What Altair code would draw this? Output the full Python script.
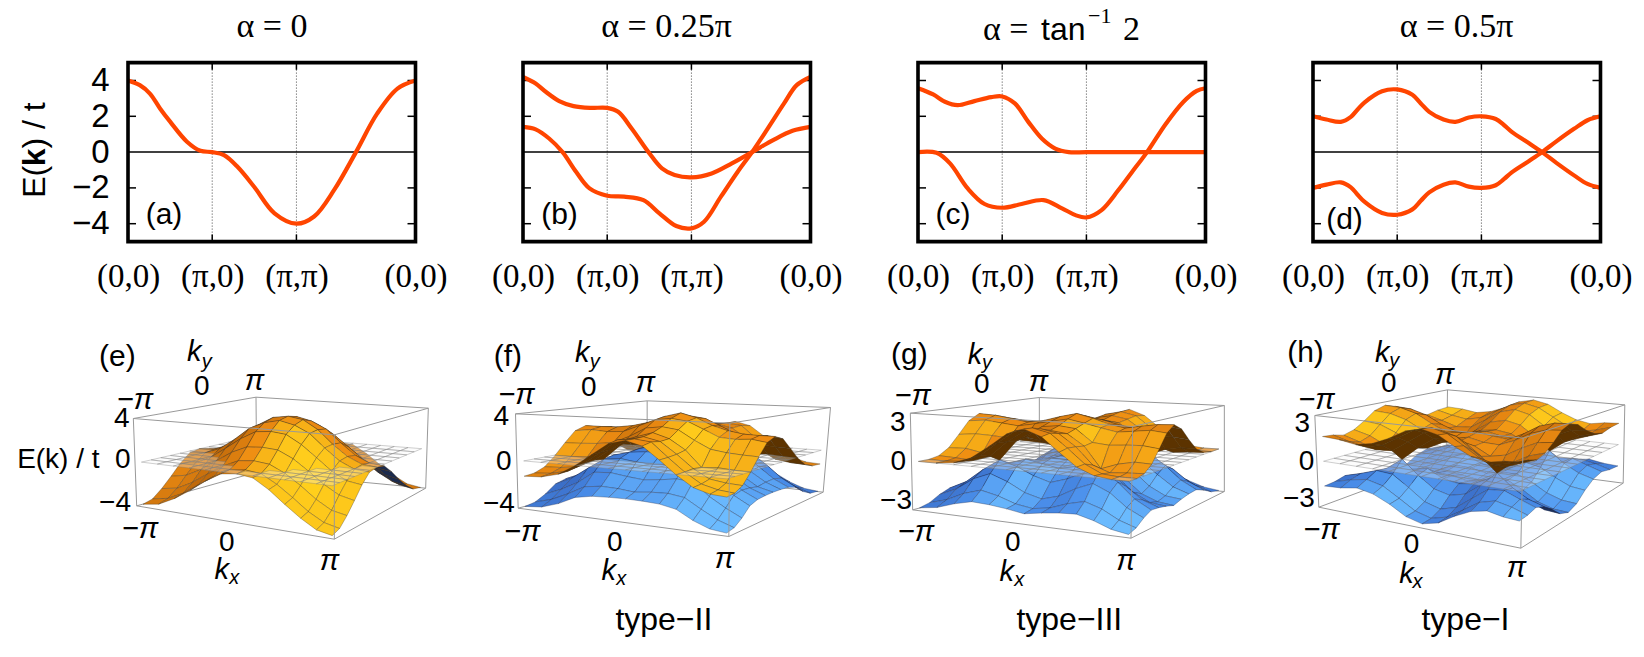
import numpy as np
import pandas as pd
import altair as alt

alt.data_transformers.disable_max_rows()

# ---- band-structure cuts (a)-(d): x is path length in units of pi
A_X = [0, .14, .26, .38, .5, .7, .86, 1, 1.14, 1.3, 1.5, 1.74, 2, 2.21, 2.45, 2.707, 2.96, 3.2, 3.414]
A_E = [4, 3.74, 3.27, 2.44, 1.7, .58, .07, 0, -.17, -.82, -1.95, -3.42, -4, -3.6, -2.1, 0, 2.16, 3.55, 4]
B1_X = [0, .15, .27, .43, .6, .8, 1, 1.13, 1.29, 1.49, 1.65, 1.8, 2, 2.24, 2.48, 2.72, 2.97, 3.2, 3.414]
B1_E = [4.2, 3.83, 3.37, 2.85, 2.57, 2.47, 2.47, 2.25, 1.32, 0, -.91, -1.28, -1.41, -1.19, -.63, 0, .67, 1.19, 1.41]
B2_X = [0, .15, .31, .47, .63, .79, 1, 1.2, 1.43, 1.62, 1.82, 2, 2.15, 2.35, 2.55, 2.72, 2.9, 3.1, 3.25, 3.414]
B2_E = [1.41, 1.27, .76, 0, -1.1, -2.03, -2.44, -2.49, -2.68, -3.42, -4.13, -4.26, -3.89, -2.49, -1.1, 0, 1.27, 2.72, 3.74, 4.2]
C1_X = [0, .18, .32, .47, .67, .87, 1, 1.15, 1.31, 1.47, 1.63, 1.79, 2, 2.7, 3.414]
C1_E = [3.57, 3.22, 2.81, 2.62, 2.85, 3.07, 3.11, 2.72, 1.69, .76, .2, 0, 0, 0, 0]
C2_X = [0, .22, .38, .59, .79, 1, 1.23, 1.49, 1.71, 1.87, 2, 2.18, 2.38, 2.54, 2.72, 2.94, 3.15, 3.31, 3.414]
C2_E = [0, -.04, -.63, -2.03, -2.9, -3.11, -2.9, -2.68, -3.14, -3.52, -3.65, -3.24, -2.12, -1.12, 0, 1.56, 2.8, 3.42, 3.57]
D1_X = [0, .16, .33, .45, .53, .61, .82, 1, 1.18, 1.28, 1.38, 1.55, 1.69, 1.85, 2, 2.17, 2.27, 2.36, 2.57, 2.72, 2.89, 3.1, 3.26, 3.414]
D1_E = [2, 1.82, 1.69, 1.97, 2.38, 2.77, 3.4, 3.5, 3.2, 2.72, 2.25, 1.82, 1.69, 1.93, 2, 1.85, 1.5, 1.13, .48, 0, -.6, -1.3, -1.78, -2]
D2_X = D1_X
D2_E = [-2, -1.82, -1.69, -1.97, -2.38, -2.77, -3.4, -3.5, -3.2, -2.72, -2.25, -1.82, -1.69, -1.93, -2, -1.85, -1.5, -1.13, -.48, 0, .6, 1.3, 1.78, 2]
X_TICKS = [0, 1, 2, 3.414]
Y_TICKS = [-4, -2, 0, 2, 4]

# ---- surface heights, one quadrant (kx<=ky, steps of pi/6)
E_E = [[4, 3.78, 2.95, 1.7, .7, .12, 0], [3.46, 2.8, 1.6, .55, -.05, -.17], [2, .95, -.1, -.8, -1],
       [0, -1, -1.75, -2.05], [-2, -2.75, -3], [-3.46, -3.75], [-4]]
F_U = [[4.2, 3.8, 3.15, 2.75, 2.52, 2.47, 2.47], [3.6, 2.95, 2.3, 2.2, 2.3, 2.1], [2.1, 1.4, 1.2, 1.1, 1.05],
       [0, .1, 0, -.05], [-.65, -.85, -.93], [-1.19, -1.32], [-1.41]]
F_L = [[1.41, 1.26, .77, -.1, -1.25, -2.1, -2.44], [1.15, .75, 0, -1.1, -1.95, -2.47], [.6, .2, -.9, -1.9, -2.55],
       [0, -1, -2.1, -2.82], [-2.1, -2.9, -3.55], [-3.6, -4.05], [-4.2]]
G_U = [[3.57, 3.25, 2.85, 2.62, 2.85, 3.05, 3.11], [3, 2.7, 2.45, 2.6, 2.75, 2.62], [1.72, 1.6, 1.7, 1.75, 1.6],
       [0, .45, .7, .65], [0, .1, .15], [0, 0], [0]]
G_L = [[0, 0, -.5, -1.4, -2.45, -2.95, -3.11], [0, -.25, -1, -2.1, -2.75, -2.9], [0, -.4, -1.4, -2.3, -2.75],
       [0, -.9, -2, -2.68], [-1.45, -2.4, -3], [-3.05, -3.45], [-3.65]]
H_U = [[2, 1.82, 1.69, 2.3, 3.05, 3.42, 3.5], [1.55, 1.5, 2, 2.7, 3.1, 3.2], [.85, 1.1, 1.8, 2.35, 2.5],
       [0, .95, 1.6, 1.95], [.85, 1.3, 1.7], [1.55, 1.92], [2]]
H_L = [[-2, -1.82, -1.69, -2.3, -3.05, -3.42, -3.5], [-1.55, -1.5, -2, -2.7, -3.1, -3.2], [-.85, -1.1, -1.8, -2.35, -2.5],
       [0, -.95, -1.6, -1.95], [-.85, -1.3, -1.7], [-1.55, -1.92], [-2]]

# ---- labels of lower panels: text, x, y in 3x crop coordinates
LAB_E = [("(e)", 352, 110, 30), ("0", 605, 200, 28), ("4", 365, 297, 28), ("0", 368, 420, 28), ("−4", 345, 550, 28),
         ("E(k) / t", 175, 420, 28), ("0", 680, 668, 28)]
PI_E = [("π", 763, 183), ("−π", 405, 240), ("−π", 420, 628), ("π", 988, 722), ("k", 583, 97), ("k", 665, 750)]
SUB_E = [("y", 620, 125), ("x", 703, 775)]
LAB_F = [("(f)", 112, 112, 30), ("0", 355, 205, 28), ("4", 92, 292, 28), ("0", 100, 425, 28), ("−4", 85, 552, 28),
         ("0", 433, 668, 28), ("type−II", 580, 900, 32)]
PI_F = [("π", 525, 190), ("−π", 138, 225), ("−π", 155, 636), ("π", 762, 717), ("k", 335, 100), ("k", 415, 752)]
SUB_F = [("y", 373, 125), ("x", 452, 778)]
LAB_G = [("(g)", 145, 105, 30), ("0", 362, 195, 28), ("3", 110, 310, 28), ("0", 112, 427, 28), ("−3", 105, 542, 28),
         ("0", 455, 668, 28), ("type−III", 625, 900, 32)]
PI_G = [("π", 532, 185), ("−π", 155, 228), ("−π", 165, 636), ("π", 795, 722), ("k", 342, 105), ("k", 437, 755)]
SUB_G = [("y", 378, 128), ("x", 475, 780)]
LAB_H = [("(h)", 132, 100, 30), ("0", 382, 192, 28), ("3", 122, 313, 28), ("0", 135, 425, 28), ("−3", 112, 538, 28),
         ("0", 450, 675, 28), ("type−I", 612, 900, 32)]
PI_H = [("π", 550, 165), ("−π", 165, 240), ("−π", 180, 630), ("π", 765, 745), ("k", 362, 100), ("k", 435, 762)]
SUB_H = [("y", 398, 122), ("x", 468, 785)]

# box corners (A,B,C,D) bottom then top, in crop coordinates
BOX_E = ([(410, 558), (1003, 658), (1277, 505), (770, 457)], [(400, 296), (1003, 345), (1285, 265), (768, 232)])
BOX_F = ([(143, 565), (775, 650), (1058, 517), (530, 460)], [(135, 282), (778, 310), (1080, 263), (530, 243)])
BOX_G = ([(155, 570), (810, 655), (1090, 515), (535, 470)], [(148, 280), (815, 320), (1090, 257), (535, 233)])
BOX_H = ([(172, 562), (778, 685), (1085, 490), (555, 420)], [(160, 287), (785, 355), (1090, 255), (558, 210)])

W, H_TOP, GAP_X = 287.5, 179, 107
LEFTS = [128, 522.5, 917, 1311.5]
TOP_Y = 62.75
ROW2_Y = 320
H_BOT = 320
FRAME = 3.6
SANS, SERIF = "Liberation Sans", "Liberation Serif"
ORANGE = "#ff4500"


def txt(s, x, y, size, font=SANS, **kw):
    kw.setdefault("align", "center")
    kw.setdefault("baseline", "alphabetic")
    return alt.Chart(pd.DataFrame({"t": [s]})).mark_text(font=font, fontSize=size, color="black", **kw).encode(
        x=alt.value(x), y=alt.value(y), text="t:N")


def cut_panel(idx, series, extra, yaxis):
    xs = alt.Scale(domain=[0, 3.414], nice=False, zero=False)
    ys = alt.Scale(domain=[-5, 5], nice=False, zero=False)
    xenc = alt.X("x:Q", scale=xs, axis=alt.Axis(
        values=X_TICKS, grid=False, domain=False, ticks=False, title=None, labelFont=SERIF, labelFontSize=33,
        labelColor="black", labelPadding=19, labelOverlap=False, labelFlush=False, labelBound=False,
        labelExpr="datum.value==1?'(π,0)':datum.value==2?'(π,π)':'(0,0)'"))
    yaxis_def = alt.Axis(values=Y_TICKS, grid=False, domain=False, ticks=False, title=None, labelFont=SANS,
                         labelFontSize=33, labelColor="black", labelPadding=19) if yaxis else None
    yenc = alt.Y("y:Q", scale=ys, axis=yaxis_def)

    frame = alt.Chart(pd.DataFrame({"x": [0], "x2": [3.414], "y": [-5], "y2": [5]})).mark_rect(
        filled=False, stroke="black", strokeWidth=FRAME).encode(x=xenc, x2="x2:Q", y=yenc, y2="y2:Q")
    layers = []
    layers.append(alt.Chart(pd.DataFrame({"x": [1, 2], "y": [-5, -5], "y2": [5, 5]})).mark_rule(
        stroke="#444", strokeWidth=1, strokeDash=[1, 2]).encode(x=xenc, y=yenc, y2="y2:Q"))
    for a, b in [(-5, -4.6), (4.6, 5)]:
        layers.append(alt.Chart(pd.DataFrame({"x": [1, 2], "y": [a, a], "y2": [b, b]})).mark_rule(
            stroke="black", strokeWidth=1.5).encode(x=xenc, y=yenc, y2="y2:Q"))
    ty = [t for t in Y_TICKS if t != 0]
    for a, b in [(0, .095), (3.319, 3.414)]:
        layers.append(alt.Chart(pd.DataFrame({"y": ty, "x": [a] * 4, "x2": [b] * 4})).mark_rule(
            stroke="black", strokeWidth=1.5).encode(y=yenc, x=xenc, x2="x2:Q"))
    layers.append(alt.Chart(pd.DataFrame({"y": [0], "x": [0], "x2": [3.414]})).mark_rule(
        stroke="black", strokeWidth=1.5).encode(y=yenc, x=xenc, x2="x2:Q"))
    for sx, se in series:
        layers.append(alt.Chart(pd.DataFrame({"x": sx, "y": se})).mark_line(
            color=ORANGE, strokeWidth=4.2, interpolate="catmull-rom", clip=True).encode(x=xenc, y=yenc))
    layers.append(frame)
    layers.extend(extra)
    return alt.layer(*layers).properties(width=W, height=H_TOP)


def quadrant_to_grid(tri):
    q = np.zeros((7, 7))
    for a, row in enumerate(tri):
        for k, v in enumerate(row):
            q[a, a + k] = v
            q[a + k, a] = v
    g = np.zeros((13, 13))
    for i in range(13):
        for j in range(13):
            g[i, j] = q[abs(i - 6), abs(j - 6)]
    return g


def hexcol(c):
    return "#%02x%02x%02x" % tuple(int(round(v)) for v in c)


def ramp(stops, s):
    cols = [np.array([int(h[i:i + 2], 16) for i in (1, 3, 5)], float) for h in stops]
    if s < .6:
        return hexcol(cols[0] + (cols[1] - cols[0]) * s / .6)
    return hexcol(cols[1] + (cols[2] - cols[1]) * (s - .6) / .4)


ORANGE_RAMP = ["#b9650a", "#ee8c12", "#ffcf1c"]
BLUE_RAMP = ["#3767c0", "#4a8eea", "#6cbcff"]
LIGHT = np.array([.62, -.62, .5])


def shade_grid(grid):
    sh = np.zeros((12, 12))
    for i in range(12):
        for j in range(12):
            du = (grid[i + 1, j] + grid[i + 1, j + 1] - grid[i, j] - grid[i, j + 1]) / 2 / (np.pi / 6)
            dv = (grid[i + 1, j + 1] + grid[i, j + 1] - grid[i, j] - grid[i + 1, j]) / 2 / (np.pi / 6)
            n = np.array([-du, -dv, 1.0])
            sh[i, j] = n @ LIGHT / np.linalg.norm(n)
    out = np.zeros((12, 12))
    for i in range(12):
        for j in range(12):
            out[i, j] = sh[max(i - 1, 0):i + 2, max(j - 1, 0):j + 2].mean()
    return np.clip(out, 0, 1)


def surface_panel(idx, off, box, emax, bands, labs, pis, subs):
    left = LEFTS[idx]

    def page(p):
        return np.array([off[0] + p[0] / 3 - left, off[1] + p[1] / 3 - ROW2_Y])

    bot = [page(p) for p in box[0]]
    top = [page(p) for p in box[1]]

    def bil(c, u, v):
        return (1 - u) * (1 - v) * c[0] + u * (1 - v) * c[1] + u * v * c[2] + (1 - u) * v * c[3]

    def proj(i, j, e):
        u = .02 + .96 * i / 12
        v = .02 + .96 * j / 12
        h = (e + emax) / (2 * emax)
        return (1 - h) * bil(bot, u, v) + h * bil(top, u, v)

    cells = []
    for grid, rmp, under, stroke in bands + [(np.zeros((13, 13)), None, None, None)]:
        sh = shade_grid(grid)
        for i in range(12):
            for j in range(12):
                es = [grid[i, j], grid[i + 1, j], grid[i + 1, j + 1], grid[i, j + 1]]
                pts = [proj(i, j, es[0]), proj(i + 1, j, es[1]), proj(i + 1, j + 1, es[2]), proj(i, j + 1, es[3])]
                if rmp is None:
                    fill, fo, st = "#f4f4f4", .3, "rgba(120,120,120,0.6)"
                else:
                    a = pts[1] - pts[0]
                    b = pts[3] - pts[0]
                    c = pts[2] - pts[3]
                    d = pts[2] - pts[1]
                    cross = (a[0] * b[1] - a[1] * b[0]) + (c[0] * d[1] - c[1] * d[0])
                    fill = under if cross > 0 else ramp(rmp, float(sh[i, j]))
                    fo, st = 1.0, stroke
                cells.append((i - j, float(np.mean(es)), pts, fill, fo, st))
    cells.sort(key=lambda c: (c[0], c[1]))
    rows = []
    for k, (_, _, pts, fill, fo, st) in enumerate(cells):
        for o, p in enumerate(pts + [pts[0]]):
            rows.append({"id": k, "o": o, "x": float(p[0]), "y": float(p[1]), "f": fill, "fo": fo, "s": st})
    df = pd.DataFrame(rows)
    xs = alt.Scale(domain=[0, W], nice=False, zero=False)
    ys = alt.Scale(domain=[0, H_BOT], nice=False, zero=False, reverse=True)
    xe = alt.X("x:Q", scale=xs, axis=None)
    ye = alt.Y("y:Q", scale=ys, axis=None)
    surf = alt.Chart(df).mark_line(strokeWidth=.6, interpolate="linear").encode(
        x=xe, y=ye, order="o:Q", detail="id:N",
        fill=alt.Fill("f:N", scale=None), fillOpacity=alt.FillOpacity("fo:Q", scale=None),
        stroke=alt.Stroke("s:N", scale=None))

    def edges(pairs):
        rs = []
        for k, (p, q) in enumerate(pairs):
            rs.append({"id": k, "x": float(p[0]), "y": float(p[1]), "x2": float(q[0]), "y2": float(q[1])})
        return alt.Chart(pd.DataFrame(rs)).mark_rule(stroke="#999999", strokeWidth=1).encode(
            x=xe, y=ye, x2="x2:Q", y2="y2:Q")

    back = edges([(top[0], top[3]), (top[3], top[2]), (top[3], bot[3]), (bot[0], bot[3]), (bot[3], bot[2]),
                  (top[2], bot[2]), (top[0], bot[0])])
    front = edges([(top[0], top[1]), (top[1], top[2]), (top[1], bot[1]), (bot[0], bot[1]), (bot[1], bot[2])])

    def label_layer(items, **kw):
        dflt = kw.pop("dflt", 28)
        recs = [{"t": it[0], "x": float(page(it[1:3])[0]), "y": float(page(it[1:3])[1]),
                 "z": it[3] if len(it) > 3 else dflt} for it in items]
        return alt.Chart(pd.DataFrame(recs)).mark_text(font=SANS, color="black", align="center", baseline="middle",
                                                        **kw).encode(
            x=xe, y=ye, text="t:N", size=alt.Size("z:Q", scale=None))

    return alt.layer(back, surf, front, label_layer(labs), label_layer(pis, fontStyle="italic", dflt=29),
                     label_layer(subs, fontStyle="italic", dflt=20)).properties(width=W, height=H_BOT)


def rel(x, y, i):
    return x - LEFTS[i], y - TOP_Y


# ---- top row
t_a = [txt("α = 0", *rel(272, 37, 0), 34, SERIF), txt("(a)", *rel(164, 224, 0), 30),
       txt("E(", 45 - LEFTS[0], 198 - TOP_Y, 32, angle=270, align="left"),
       txt("k", 45 - LEFTS[0], 166.3 - TOP_Y, 32, angle=270, align="left", fontWeight="bold"),
       txt(") / t", 45 - LEFTS[0], 148.7 - TOP_Y, 32, angle=270, align="left")]
t_b = [txt("α = 0.25π", *rel(666, 37, 1), 34, SERIF), txt("(b)", *rel(559, 224, 1), 30)]
t_c = [txt("α =", *rel(982, 40, 2), 34, SERIF, align="left"), txt("tan", *rel(1040, 40, 2), 32, align="left"),
       txt("−1", *rel(1087, 23, 2), 22, SERIF, align="left"), txt("2", *rel(1122, 40, 2), 34, SERIF, align="left"),
       txt("(c)", *rel(952, 224, 2), 30)]
t_d = [txt("α = 0.5π", *rel(1455, 37, 3), 34, SERIF), txt("(d)", *rel(1343, 229, 3), 30)]

top_row = alt.hconcat(
    cut_panel(0, [(A_X, A_E)], t_a, True),
    cut_panel(1, [(B1_X, B1_E), (B2_X, B2_E)], t_b, False),
    cut_panel(2, [(C1_X, C1_E), (C2_X, C2_E)], t_c, False),
    cut_panel(3, [(D1_X, D1_E), (D2_X, D2_E)], t_d, False),
    spacing=GAP_X, bounds="flush")

# ---- bottom row
MESH_O = "rgba(60,50,30,0.55)"
MESH_B = "rgba(30,40,70,0.55)"
bot_row = alt.hconcat(
    surface_panel(0, (0, 320), BOX_E, 4.15, [(quadrant_to_grid(E_E), ORANGE_RAMP, "#1c2b4d", MESH_O)], LAB_E, PI_E, SUB_E),
    surface_panel(1, (470, 320), BOX_F, 4.35, [(quadrant_to_grid(F_L), BLUE_RAMP, "#1e3058", MESH_B),
                                               (quadrant_to_grid(F_U), ORANGE_RAMP, "#5c3300", MESH_O)], LAB_F, PI_F, SUB_F),
    surface_panel(2, (860, 320), BOX_G, 3.8, [(quadrant_to_grid(G_L), BLUE_RAMP, "#1e3058", MESH_B),
                                              (quadrant_to_grid(G_U), ORANGE_RAMP, "#5c3300", MESH_O)], LAB_G, PI_G, SUB_G),
    surface_panel(3, (1260, 320), BOX_H, 3.7, [(quadrant_to_grid(H_L), BLUE_RAMP, "#1e3058", MESH_B),
                                               (quadrant_to_grid(H_U), ORANGE_RAMP, "#5c3300", MESH_O)], LAB_H, PI_H, SUB_H),
    spacing=GAP_X, bounds="flush")

chart = alt.vconcat(top_row, bot_row, spacing=257.25, bounds="flush").properties(
    padding={"left": 9, "top": -3.4, "right": 0, "bottom": 0}
).configure_view(stroke=None)

chart.save("out.html", embed_options={"renderer": "svg", "actions": False})
